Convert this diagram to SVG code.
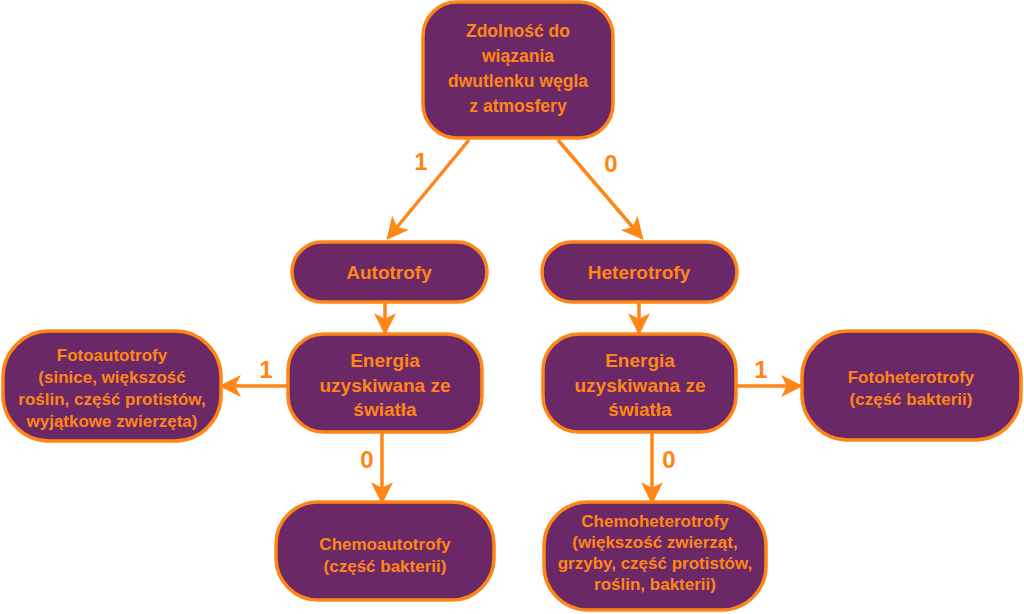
<svg xmlns="http://www.w3.org/2000/svg" width="1024" height="614" viewBox="0 0 1024 614">
<style>
.n{fill:#6b2866;stroke:#ff8616;stroke-width:3.5}
.t{font-family:"Liberation Sans",Arial,sans-serif;font-weight:bold;fill:#ff8616;text-anchor:middle}
.c{stroke:#ff8616;stroke-width:3.5;fill:none}
.l{font-family:"Liberation Sans",Arial,sans-serif;font-weight:bold;fill:#ff8616;font-size:24px;text-anchor:middle}
</style>
<defs>
<marker id="a" viewBox="0 0 20 20" refX="18" refY="10" markerWidth="22" markerHeight="22" markerUnits="userSpaceOnUse" orient="auto">
<path d="M0,0 L20,10 L0,20 L5,10 z" fill="#ff8616"/>
</marker>
</defs>
<g id="connectors">
<line class="c" x1="469" y1="140" x2="388" y2="238" marker-end="url(#a)"/>
<line class="c" x1="558" y1="140" x2="642" y2="238" marker-end="url(#a)"/>
<line class="c" x1="385" y1="303" x2="385" y2="333" marker-end="url(#a)"/>
<line class="c" x1="639" y1="303" x2="639" y2="333" marker-end="url(#a)"/>
<line class="c" x1="288" y1="386" x2="221" y2="386" marker-end="url(#a)"/>
<line class="c" x1="736" y1="386" x2="801" y2="386" marker-end="url(#a)"/>
<line class="c" x1="382" y1="433" x2="382" y2="502" marker-end="url(#a)"/>
<line class="c" x1="652" y1="433" x2="652" y2="502" marker-end="url(#a)"/>
<text class="l" x="421" y="170">1</text>
<text class="l" x="611" y="172">0</text>
<text class="l" x="266" y="378">1</text>
<text class="l" x="761" y="378">1</text>
<text class="l" x="367" y="468">0</text>
<text class="l" x="669" y="468">0</text>
</g>
<g id="root">
<rect class="n" x="423" y="2" width="190" height="136" rx="34"/>
<text class="t" font-size="17.5"><tspan x="518" y="37">Zdolność do</tspan><tspan x="518" y="62">wiązania</tspan><tspan x="518" y="87">dwutlenku węgla</tspan><tspan x="518" y="112">z atmosfery</tspan></text>
</g>
<g id="autotrofy">
<rect class="n" x="292" y="242" width="195" height="60" rx="30"/>
<text class="t" font-size="19" x="389" y="279">Autotrofy</text>
</g>
<g id="heterotrofy">
<rect class="n" x="542" y="242" width="195" height="60" rx="30"/>
<text class="t" font-size="19" x="639" y="279">Heterotrofy</text>
</g>
<g id="energia-a">
<rect class="n" x="288" y="334" width="194" height="98" rx="36"/>
<text class="t" font-size="19"><tspan x="385" y="367">Energia</tspan><tspan x="385" y="392">uzyskiwana ze</tspan><tspan x="385" y="416">światła</tspan></text>
</g>
<g id="energia-h">
<rect class="n" x="543" y="334" width="193" height="98" rx="36"/>
<text class="t" font-size="19"><tspan x="640" y="367">Energia</tspan><tspan x="640" y="392">uzyskiwana ze</tspan><tspan x="640" y="416">światła</tspan></text>
</g>
<g id="fotoautotrofy">
<rect class="n" x="3" y="331" width="218" height="110" rx="46"/>
<text class="t" font-size="17"><tspan x="112" y="361">Fotoautotrofy</tspan><tspan x="112" y="383">(sinice, większość</tspan><tspan x="112" y="405">roślin, część protistów,</tspan><tspan x="112" y="427">wyjątkowe zwierzęta)</tspan></text>
</g>
<g id="fotoheterotrofy">
<rect class="n" x="802" y="331" width="219" height="109" rx="46"/>
<text class="t" font-size="17"><tspan x="911" y="383">Fotoheterotrofy</tspan><tspan x="911" y="405">(część bakterii)</tspan></text>
</g>
<g id="chemoautotrofy">
<rect class="n" x="276" y="502" width="218" height="98" rx="42"/>
<text class="t" font-size="17"><tspan x="385" y="550">Chemoautotrofy</tspan><tspan x="385" y="572">(część bakterii)</tspan></text>
</g>
<g id="chemoheterotrofy">
<rect class="n" x="544" y="502" width="222" height="108" rx="44"/>
<text class="t" font-size="17"><tspan x="655" y="527">Chemoheterotrofy</tspan><tspan x="655" y="548">(większość zwierząt,</tspan><tspan x="655" y="569">grzyby, część protistów,</tspan><tspan x="655" y="590">roślin, bakterii)</tspan></text>
</g>
</svg>
